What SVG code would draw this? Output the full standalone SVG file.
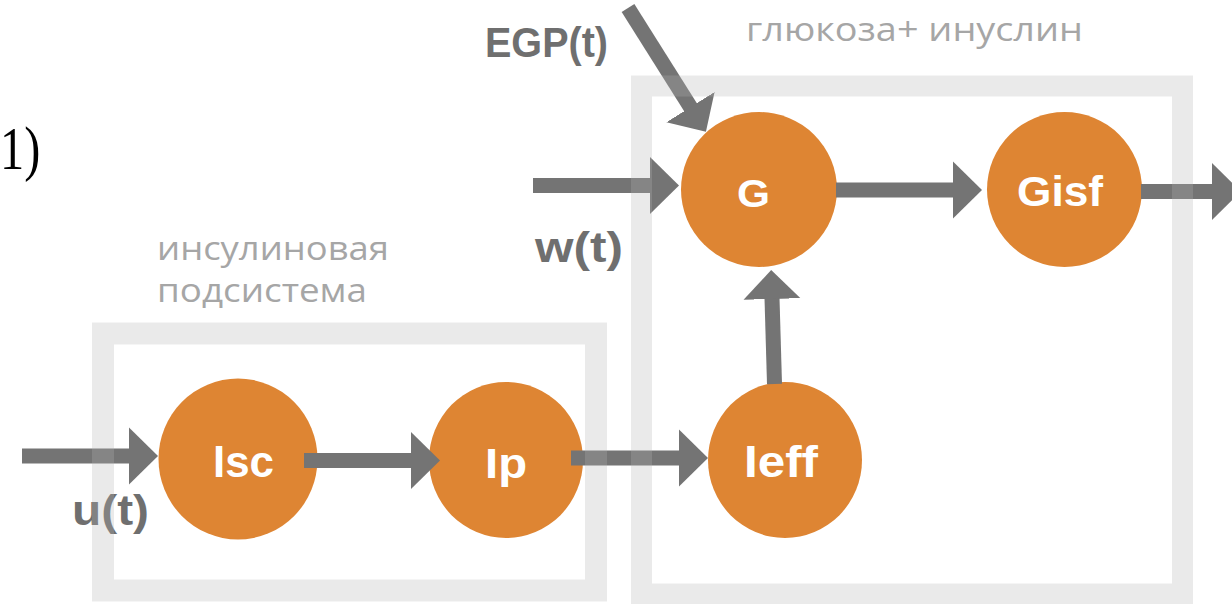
<svg xmlns="http://www.w3.org/2000/svg" width="1232" height="604" viewBox="0 0 1232 604">
  <style>
    .node { fill: #DE8533; }
    .nlabel { fill: #ffffff; font-family: "Liberation Sans", Arial, sans-serif; font-weight: bold; }
    .conn { stroke: #747474; fill: none; stroke-width: 15; }
    .box { fill: none; stroke: #b4b4b4; stroke-opacity: 0.28; }
    .sig { fill: #6f6f6f; font-family: "Liberation Sans", Arial, sans-serif; font-weight: bold; font-size: 42px; }
    .title { fill: #a6a6a6; font-family: "Open Sans", "Noto Sans", sans-serif; font-size: 33px; }
  </style>
  <defs>
    <marker id="head" viewBox="0 -29 29 58" refX="1" refY="0" markerWidth="29" markerHeight="58" markerUnits="userSpaceOnUse" orient="auto">
      <path d="M0,-28.5 L29,0 L0,28.5 Z" fill="#747474"/>
    </marker>
  </defs>
  <rect width="1232" height="604" fill="#ffffff"/>

  <text x="0" y="169" transform="translate(0,169) scale(0.78,1) translate(0,-169)" font-family="'Liberation Serif', 'Times New Roman', serif" font-size="62" fill="#000000">1)</text>

  <g id="labels">
    <text class="title" x="746" y="41" textLength="337" lengthAdjust="spacingAndGlyphs">глюкоза+ инуслин</text>
    <text class="title" x="157" y="260" textLength="232" lengthAdjust="spacingAndGlyphs">инсулиновая</text>
    <text class="title" x="157" y="302" textLength="210" lengthAdjust="spacingAndGlyphs">подсистема</text>
    <text class="sig" x="485" y="57" font-size="40" textLength="123" lengthAdjust="spacingAndGlyphs">EGP(t)</text>
    <text class="sig" x="535" y="262" textLength="88" lengthAdjust="spacingAndGlyphs">w(t)</text>
    <text class="sig" x="72" y="525" textLength="77" lengthAdjust="spacingAndGlyphs">u(t)</text>
  </g>

  <g id="node-Isc">
    <ellipse class="node" cx="238" cy="459" rx="79.5" ry="80.5"/>
    <text class="nlabel" x="213" y="477" font-size="44" textLength="61" lengthAdjust="spacingAndGlyphs">Isc</text>
  </g>
  <g id="node-Ip">
    <ellipse class="node" cx="506" cy="460" rx="77" ry="78"/>
    <text class="nlabel" x="485" y="478" font-size="42" textLength="42" lengthAdjust="spacingAndGlyphs">Ip</text>
  </g>
  <g id="node-Ieff">
    <ellipse class="node" cx="785" cy="460" rx="77" ry="78"/>
    <text class="nlabel" x="744" y="477" font-size="44" textLength="74" lengthAdjust="spacingAndGlyphs">Ieff</text>
  </g>
  <g id="node-G">
    <ellipse class="node" cx="759" cy="189.5" rx="78" ry="77.5"/>
    <text class="nlabel" x="737" y="207" font-size="39" textLength="33" lengthAdjust="spacingAndGlyphs">G</text>
  </g>
  <g id="node-Gisf">
    <ellipse class="node" cx="1064.5" cy="189.5" rx="77.5" ry="77.5"/>
    <text class="nlabel" x="1017" y="206" font-size="43" textLength="86" lengthAdjust="spacingAndGlyphs">Gisf</text>
  </g>

  <g id="connectors">
    <line class="conn" x1="22" y1="456" x2="130" y2="456" marker-end="url(#head)"/>
    <line class="conn" x1="304" y1="460.5" x2="412" y2="460.5" marker-end="url(#head)"/>
    <line class="conn" x1="571" y1="458" x2="680" y2="458" marker-end="url(#head)"/>
    <line class="conn" stroke-width="14" x1="774.5" y1="384" x2="772" y2="298" marker-end="url(#head)"/>
    <line class="conn" x1="533" y1="185.5" x2="651" y2="185.5" marker-end="url(#head)"/>
    <line class="conn" stroke-width="14" x1="836" y1="190" x2="954" y2="190" marker-end="url(#head)"/>
    <line class="conn" stroke-width="14" x1="1141" y1="191.5" x2="1213" y2="191.5" marker-end="url(#head)"/>
    <line class="conn" stroke-width="16" x1="628" y1="8" x2="691" y2="108" marker-end="url(#head)"/>
  </g>

  <g id="box-insulin">
    <rect class="box" x="103" y="333.5" width="493" height="257" stroke-width="22"/>
  </g>
  <g id="box-glucose">
    <rect class="box" x="641.5" y="86" width="541" height="508" stroke-width="21"/>
  </g>
</svg>
